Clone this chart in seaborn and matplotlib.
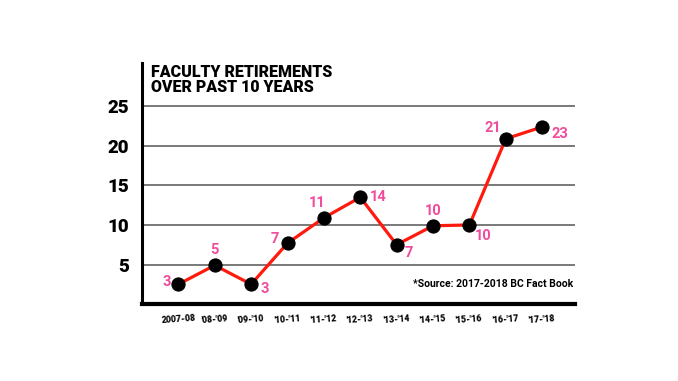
import numpy as np
import pandas as pd
import matplotlib
matplotlib.use("Agg")
import matplotlib.pyplot as plt
import seaborn as sns

# data
seasons = ["2007-08", "'08-'09", "'09-'10", "'10-'11", "'11-'12", "'12-'13",
           "'13-'14", "'14-'15", "'15-'16", "'16-'17", "'17-'18"]
plotted = [2.5, 4.9, 2.5, 7.7, 10.9, 13.5, 7.5, 9.9, 10.0, 20.9, 22.4]
labels = [3, 5, 3, 7, 11, 14, 7, 10, 10, 21, 23]
# label offsets in pixels (dx, dy)
offsets = [(-12, 2), (0, 15), (14, -5), (-13, 4), (-7, 15), (18, 0),
           (12, -8), (0, 15), (14, -11), (-13, 11), (18, -7)]
yticks = [5, 10, 15, 20, 25]

sns.set_style("white")
plt.rcParams['font.family'] = ['Roboto', 'DejaVu Sans']
plt.rcParams['text.color'] = 'black'

df = pd.DataFrame({'x': np.arange(len(seasons)), 'y': plotted})

fig = plt.figure(figsize=(6.78, 3.81), dpi=100)
ax = fig.add_axes([0.2094, 0.202, 0.6386, 0.633])

for t in yticks:
    ax.axhline(t, color='#555555', lw=1.1, zorder=0)

sns.lineplot(data=df, x='x', y='y', color='#ff1a0d', lw=2.3, ax=ax, zorder=2)
sns.scatterplot(data=df, x='x', y='y', color='black', s=90, edgecolor='black',
                ax=ax, zorder=3)

for xi, yi, lab, (dx, dy) in zip(df['x'], df['y'], labels, offsets):
    ax.annotate(str(lab), (xi, yi), xytext=(dx, dy), textcoords='offset pixels',
                ha='center', va='center', color='#f04c9c', fontsize=10.5,
                fontweight='bold')

ax.set_xlim(-1, 10.9)
ax.set_ylim(0, 30.5)
ax.set_yticks(yticks)
ax.set_yticklabels([str(t) for t in yticks], fontsize=13.5, fontweight='black',
                   color='black')
ax.set_xticks(df['x'])
ax.set_xticklabels(seasons, fontsize=6.3, fontweight='black', rotation=4,
                   color='black')
ax.tick_params(axis='both', length=0)
ax.tick_params(axis='y', pad=9)
ax.tick_params(axis='x', pad=7)
ax.set_xlabel('')
ax.set_ylabel('')

for s in ['top', 'right']:
    ax.spines[s].set_visible(False)
ax.spines['left'].set_linewidth(2.2)
ax.spines['bottom'].set_linewidth(3)
ax.spines['left'].set_color('black')
ax.spines['bottom'].set_color('black')

ax.text(0.02, 0.995, "FACULTY RETIREMENTS\nOVER PAST 10 YEARS", transform=ax.transAxes,
        ha='left', va='top', fontsize=11.5, fontweight='black', linespacing=0.95)
ax.text(0.995, 0.085, "*Source: 2017-2018 BC Fact Book", transform=ax.transAxes,
        ha='right', va='center', fontsize=7.5, fontweight='bold')

fig.savefig('out.png', dpi=100)
